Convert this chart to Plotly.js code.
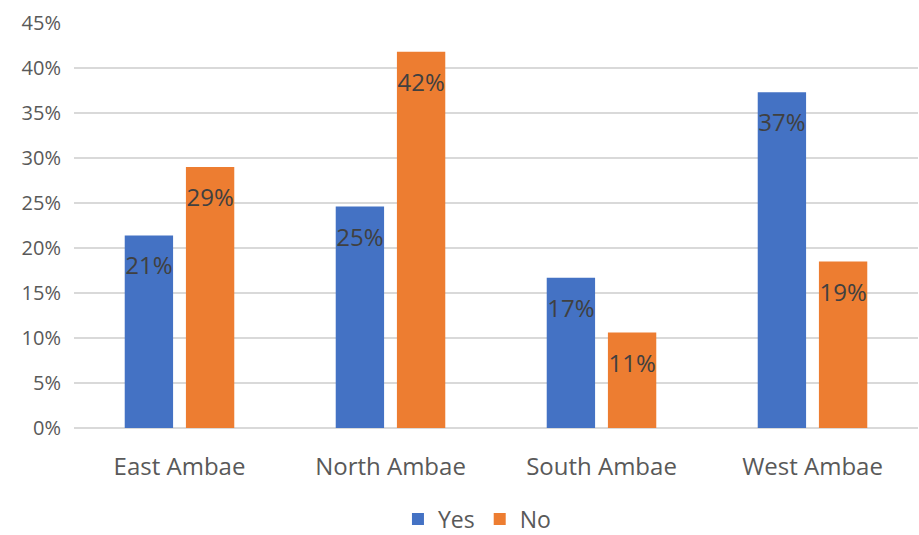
<!DOCTYPE html>
<html>
<head>
<meta charset="utf-8">
<script src="https://cdn.plot.ly/plotly-3.0.1.min.js"></script>
<style>html,body{margin:0;padding:0;background:#fff;}#chart{width:919px;height:535px;}</style>
</head>
<body>
<div id="chart"></div>
<script>
const categories = ["East Ambae", "North Ambae", "South Ambae", "West Ambae"];
const yesValues = [0.214, 0.246, 0.167, 0.373];
const noValues = [0.290, 0.418, 0.106, 0.185];
const yTickVals = [0, 0.05, 0.10, 0.15, 0.20, 0.25, 0.30, 0.35, 0.40, 0.45];
const yTickText = ["0%", "5%", "10%", "15%", "20%", "25%", "30%", "35%", "40%", "45%"];

const fontFam = "'Open Sans', sans-serif";
function barTrace(name, vals, color) {
  return {type: "bar", name: name, x: categories, y: vals, offsetgroup: name,
          marker: {color: color}, hoverinfo: "skip"};
}
function labelTrace(name, vals) {
  return {type: "scatter", mode: "markers+text", x: categories, y: vals, offsetgroup: name,
          texttemplate: "%{y:.0%}", textposition: "bottom center",
          marker: {size: 32, opacity: 0},
          textfont: {family: fontFam, size: 24, color: "#404040"},
          showlegend: false, hoverinfo: "skip", cliponaxis: false};
}
const data = [
  barTrace("Yes", yesValues, "#4472C4"),
  barTrace("No", noValues, "#ED7D31"),
  labelTrace("Yes", yesValues),
  labelTrace("No", noValues)
];
const layout = {
  width: 919, height: 535,
  margin: {l: 74, r: 1, t: 23, b: 107},
  paper_bgcolor: "#fff", plot_bgcolor: "#fff",
  font: {family: fontFam, color: "#595959"},
  barmode: "group",
  scattermode: "group",
  bargap: 0.42,
  bargroupgap: 0.21,
  scattergap: 0.42,
  xaxis: {
    automargin: false,
    showgrid: false, zeroline: false, showline: false,
    ticks: "outside", ticklen: 17, tickcolor: "rgba(0,0,0,0)",
    tickfont: {size: 24, color: "#595959"}
  },
  yaxis: {
    automargin: false,
    range: [0, 0.45], tickvals: yTickVals, ticktext: yTickText,
    showgrid: true, gridcolor: "#d9d9d9", gridwidth: 1.5,
    zeroline: true, zerolinecolor: "#d9d9d9", zerolinewidth: 1.5,
    showline: false, ticks: "", ticklabelstandoff: 12,
    tickfont: {size: 20, color: "#595959"}
  },
  showlegend: true,
  legend: {
    orientation: "h", xref: "container", yref: "container",
    x: 0.519, xanchor: "center",
    y: 0.03, yanchor: "middle",
    font: {size: 23, color: "#595959"},
    itemwidth: 30
  }
};
Plotly.newPlot("chart", data, layout, {displayModeBar: false, staticPlot: true});
</script>
</body>
</html>
